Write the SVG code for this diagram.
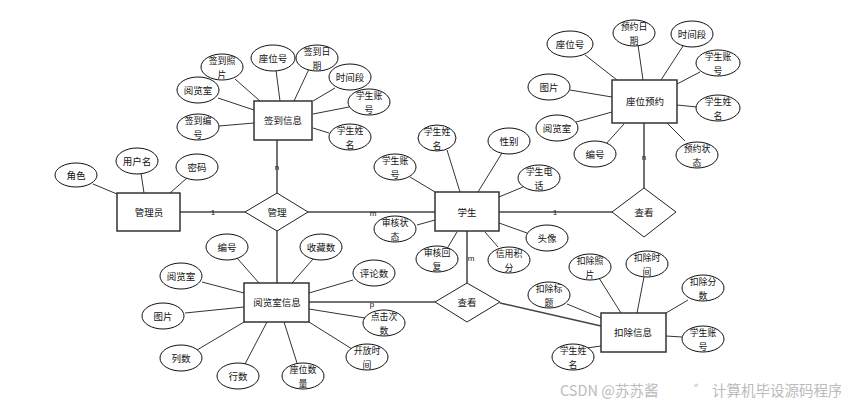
<svg xmlns="http://www.w3.org/2000/svg" width="841" height="405" viewBox="0 0 841 405">
<style>
text{font-family:"Noto Sans CJK SC","Liberation Sans",sans-serif;font-size:9.5px;fill:#111;text-anchor:middle;dominant-baseline:central}
text.t2{font-size:8.9px}
.ent{fill:#fff;stroke:#333;stroke-width:1.5}
.att{fill:#fff;stroke:#111;stroke-width:1}
.rel{fill:#fff;stroke:#222;stroke-width:1}
.ln{stroke:#333;stroke-width:1;fill:none}
.mn{stroke:#444;stroke-width:1.5;fill:none}
.card{font-family:"Liberation Sans",sans-serif;font-size:8px}
.wm{font-size:14.5px;fill:#bbb;text-anchor:start}
</style>
<rect width="841" height="405" fill="#fff"/>
<g id="connectors">
<path class="mn" d="M180 212H245M308 212H435M277 140V193M277 231V283M499 212H612M644 123V188M467 231V283M309 302H435M500 303L601 326"/>
<path class="ln" d="M235 79L260 101M276 70L280 101M309 69L294 101M335 88L313 101M349 107L313 114M329 133L313 128M218 98L254 110M219 126L254 123"/>
<path class="ln" d="M93 184L117 194M141 173L144 193M187 178L170 193"/>
<path class="ln" d="M447 150L460 192M502 153L478 192M410 177L435 192M523 187L499 197M417 225L435 220M527 233L499 223M448 247L457 232M498 247L485 232"/>
<path class="ln" d="M585 55L617 80M638 45L643 80M683 46L661 80M700 72L677 84M697 107L677 105M685 141L667 123M570 90L612 97M576 122L612 112M605 145L624 124"/>
<path class="ln" d="M237 258L259 283M313 259L292 283M353 280L309 293M202 282L244 293M185 313L244 307M365 318L309 309M197 350L244 322M245 364L267 322M297 363L284 322M352 349L309 322"/>
<path class="ln" d="M599 278L621 313M644 277L637 313M567 304L601 318M688 300L666 313M682 337L666 336M587 348L601 346"/>
<text class="card" x="213" y="212">1</text>
<text class="card" x="373" y="213">m</text>
<text class="card" x="277" y="167">n</text>
<text class="card" x="555" y="212">1</text>
<text class="card" x="644" y="157">n</text>
<text class="card" x="471" y="258">m</text>
<text class="card" x="372" y="304">p</text>
</g>
<g id="e-admin"><rect class="ent" x="117" y="193" width="63" height="38"/><text x="149" y="212">管理员</text></g>
<g id="e-signin"><rect class="ent" x="254" y="101" width="58" height="39"/><text x="283" y="120">签到信息</text></g>
<g id="e-student"><rect class="ent" x="435" y="192" width="64" height="39"/><text x="467" y="212">学生</text></g>
<g id="e-reserve"><rect class="ent" x="612" y="80" width="65" height="43"/><text x="645" y="101">座位预约</text></g>
<g id="e-room"><rect class="ent" x="244" y="283" width="65" height="39"/><text x="277" y="302">阅览室信息</text></g>
<g id="e-deduct"><rect class="ent" x="601" y="313" width="65" height="39"/><text x="633" y="332">扣除信息</text></g>
<g id="r-manage"><polygon class="rel" points="245,212 277,193 308,212 277,231"/><text x="277" y="212">管理</text></g>
<g id="r-view1"><polygon class="rel" points="612,212 644,188 676,212 644,237"/><text x="644" y="212">查看</text></g>
<g id="r-view2"><polygon class="rel" points="435,302 467,283 500,302 467,322"/><text x="467" y="302">查看</text></g>
<g id="a-s1"><ellipse class="att" cx="222" cy="67" rx="21" ry="13"/><text class="t2" x="222" y="60.5">签到照<tspan x="222" dy="13">片</tspan></text></g>
<g id="a-s2"><ellipse class="att" cx="273" cy="58" rx="22" ry="13"/><text x="273" y="58">座位号</text></g>
<g id="a-s3"><ellipse class="att" cx="317" cy="58" rx="21" ry="13"/><text class="t2" x="317" y="51.5">签到日<tspan x="317" dy="13">期</tspan></text></g>
<g id="a-s4"><ellipse class="att" cx="350" cy="77" rx="21" ry="13"/><text x="350" y="77">时间段</text></g>
<g id="a-s5"><ellipse class="att" cx="369" cy="102" rx="21" ry="13"/><text class="t2" x="369" y="95.5">学生账<tspan x="369" dy="13">号</tspan></text></g>
<g id="a-s6"><ellipse class="att" cx="350" cy="137" rx="21" ry="13"/><text class="t2" x="350" y="130.5">学生姓<tspan x="350" dy="13">名</tspan></text></g>
<g id="a-s7"><ellipse class="att" cx="198" cy="90" rx="21" ry="13"/><text x="198" y="90">阅览室</text></g>
<g id="a-s8"><ellipse class="att" cx="198" cy="127" rx="21" ry="13"/><text class="t2" x="198" y="120.5">签到编<tspan x="198" dy="13">号</tspan></text></g>
<g id="a-m1"><ellipse class="att" cx="76" cy="175" rx="21" ry="12"/><text x="76" y="175">角色</text></g>
<g id="a-m2"><ellipse class="att" cx="137" cy="161" rx="21" ry="13"/><text x="137" y="161">用户名</text></g>
<g id="a-m3"><ellipse class="att" cx="197" cy="167" rx="21" ry="13"/><text x="197" y="167">密码</text></g>
<g id="a-t1"><ellipse class="att" cx="437" cy="138" rx="19" ry="13"/><text class="t2" x="437" y="131.5">学生姓<tspan x="437" dy="13">名</tspan></text></g>
<g id="a-t2"><ellipse class="att" cx="509" cy="141" rx="21" ry="13"/><text x="509" y="141">性别</text></g>
<g id="a-t3"><ellipse class="att" cx="395" cy="167" rx="21" ry="13"/><text class="t2" x="395" y="160.5">学生账<tspan x="395" dy="13">号</tspan></text></g>
<g id="a-t4"><ellipse class="att" cx="539" cy="178" rx="21" ry="13"/><text class="t2" x="539" y="171.5">学生电<tspan x="539" dy="13">话</tspan></text></g>
<g id="a-t5"><ellipse class="att" cx="395" cy="229" rx="21" ry="13"/><text class="t2" x="395" y="222.5">审核状<tspan x="395" dy="13">态</tspan></text></g>
<g id="a-t6"><ellipse class="att" cx="547" cy="238" rx="21" ry="13"/><text x="547" y="238">头像</text></g>
<g id="a-t7"><ellipse class="att" cx="437" cy="259" rx="21" ry="13"/><text class="t2" x="437" y="252.5">审核回<tspan x="437" dy="13">复</tspan></text></g>
<g id="a-t8"><ellipse class="att" cx="509" cy="260" rx="21" ry="13"/><text class="t2" x="509" y="253.5">信用积<tspan x="509" dy="13">分</tspan></text></g>
<g id="a-r1"><ellipse class="att" cx="570" cy="44" rx="23" ry="13"/><text x="570" y="44">座位号</text></g>
<g id="a-r2"><ellipse class="att" cx="634" cy="33" rx="21" ry="13"/><text class="t2" x="634" y="26.5">预约日<tspan x="634" dy="13">期</tspan></text></g>
<g id="a-r3"><ellipse class="att" cx="692" cy="34" rx="21" ry="13"/><text x="692" y="34">时间段</text></g>
<g id="a-r4"><ellipse class="att" cx="718" cy="63" rx="22" ry="13"/><text class="t2" x="718" y="56.5">学生账<tspan x="718" dy="13">号</tspan></text></g>
<g id="a-r5"><ellipse class="att" cx="718" cy="108" rx="22" ry="13"/><text class="t2" x="718" y="101.5">学生姓<tspan x="718" dy="13">名</tspan></text></g>
<g id="a-r6"><ellipse class="att" cx="697" cy="155" rx="21" ry="13"/><text class="t2" x="697" y="148.5">预约状<tspan x="697" dy="13">态</tspan></text></g>
<g id="a-r7"><ellipse class="att" cx="549" cy="87" rx="21" ry="13"/><text x="549" y="87">图片</text></g>
<g id="a-r8"><ellipse class="att" cx="557" cy="128" rx="21" ry="13"/><text x="557" y="128">阅览室</text></g>
<g id="a-r9"><ellipse class="att" cx="595" cy="154" rx="21" ry="13"/><text x="595" y="154">编号</text></g>
<g id="a-o1"><ellipse class="att" cx="227" cy="247" rx="21" ry="13"/><text x="227" y="247">编号</text></g>
<g id="a-o2"><ellipse class="att" cx="321" cy="247" rx="21" ry="13"/><text x="321" y="247">收藏数</text></g>
<g id="a-o3"><ellipse class="att" cx="374" cy="273" rx="21" ry="13"/><text x="374" y="273">评论数</text></g>
<g id="a-o4"><ellipse class="att" cx="181" cy="276" rx="21" ry="13"/><text x="181" y="276">阅览室</text></g>
<g id="a-o5"><ellipse class="att" cx="163" cy="316" rx="21" ry="13"/><text x="163" y="316">图片</text></g>
<g id="a-o6"><ellipse class="att" cx="384" cy="323" rx="21" ry="13"/><text class="t2" x="384" y="316.5">点击次<tspan x="384" dy="13">数</tspan></text></g>
<g id="a-o7"><ellipse class="att" cx="181" cy="358" rx="21" ry="13"/><text x="181" y="358">列数</text></g>
<g id="a-o8"><ellipse class="att" cx="238" cy="376" rx="21" ry="13"/><text x="238" y="376">行数</text></g>
<g id="a-o9"><ellipse class="att" cx="303" cy="376" rx="21" ry="13"/><text class="t2" x="303" y="369.5">座位数<tspan x="303" dy="13">量</tspan></text></g>
<g id="a-o10"><ellipse class="att" cx="367" cy="357" rx="21" ry="13"/><text class="t2" x="367" y="350.5">开放时<tspan x="367" dy="13">间</tspan></text></g>
<g id="a-d1"><ellipse class="att" cx="590" cy="267" rx="21" ry="13"/><text class="t2" x="590" y="260.5">扣除照<tspan x="590" dy="13">片</tspan></text></g>
<g id="a-d2"><ellipse class="att" cx="647" cy="264" rx="21" ry="13"/><text class="t2" x="647" y="257.5">扣除时<tspan x="647" dy="13">间</tspan></text></g>
<g id="a-d3"><ellipse class="att" cx="549" cy="295" rx="21" ry="13"/><text class="t2" x="549" y="288.5">扣除标<tspan x="549" dy="13">题</tspan></text></g>
<g id="a-d4"><ellipse class="att" cx="703" cy="288" rx="21" ry="13"/><text class="t2" x="703" y="281.5">扣除分<tspan x="703" dy="13">数</tspan></text></g>
<g id="a-d5"><ellipse class="att" cx="703" cy="339" rx="21" ry="13"/><text class="t2" x="703" y="332.5">学生账<tspan x="703" dy="13">号</tspan></text></g>
<g id="a-d6"><ellipse class="att" cx="573" cy="357" rx="21" ry="13"/><text class="t2" x="573" y="350.5">学生姓<tspan x="573" dy="13">名</tspan></text></g>
<text class="wm" x="560" y="389">CSDN @苏苏酱<tspan x="694">゛</tspan><tspan x="712">计算机毕设源码程序</tspan></text>
</svg>
